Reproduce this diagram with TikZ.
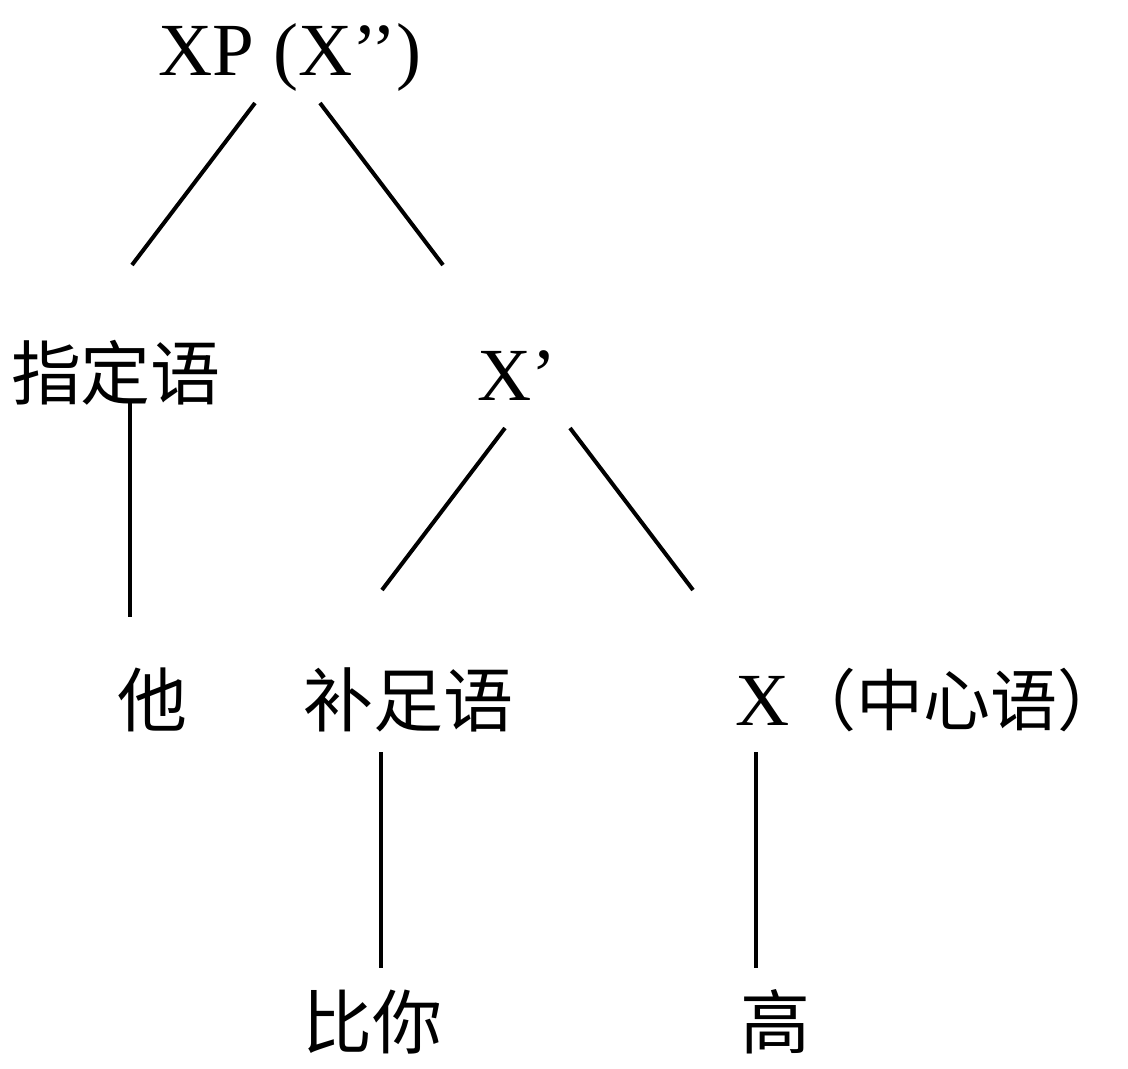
\documentclass[tikz,border=0pt]{standalone}
\usepackage{fontspec}
\setmainfont{Liberation Serif}
\newfontfamily\cjk{Noto Sans CJK SC}
\begin{document}
\begin{tikzpicture}[x=1pt,y=-1pt,
  lat/.style={inner sep=0pt,anchor=base,font=\fontsize{75}{80}\selectfont},
  zh/.style={inner sep=0pt,anchor=center,font=\fontsize{70}{76}\selectfont\cjk},
  edge/.style={line width=4pt}]
\useasboundingbox (0,0) rectangle (1128,1069);
% nodes
\node[lat] (xp) at (290,75) {XP (X’’)};
\node[zh] (spec) at (116,373) {指定语};
\node[lat] (xbar) at (517,400) {X’};
\node[zh] (ta) at (152,700) {他};
\node[zh] (comp) at (408,700) {补足语};
\node[lat,anchor=base west] (head) at (735,725) {X{\fontsize{67}{72}\selectfont\cjk（中心语）}};
\node[zh] (bini) at (372,1022) {比你};
\node[zh] (gao) at (775,1022) {高};
% connector endpoints
\coordinate (a1) at (255,103); \coordinate (a2) at (132,265);
\coordinate (b1) at (320,103); \coordinate (b2) at (443,265);
\coordinate (c1) at (130,400); \coordinate (c2) at (130,617);
\coordinate (d1) at (505,428); \coordinate (d2) at (382,590);
\coordinate (e1) at (570,428); \coordinate (e2) at (693,590);
\coordinate (f1) at (381,752); \coordinate (f2) at (381,968);
\coordinate (g1) at (756,752); \coordinate (g2) at (756,968);
% connectors
\draw[edge] (a1) -- (a2);
\draw[edge] (b1) -- (b2);
\draw[edge] (c1) -- (c2);
\draw[edge] (d1) -- (d2);
\draw[edge] (e1) -- (e2);
\draw[edge] (f1) -- (f2);
\draw[edge] (g1) -- (g2);
\end{tikzpicture}
\end{document}
